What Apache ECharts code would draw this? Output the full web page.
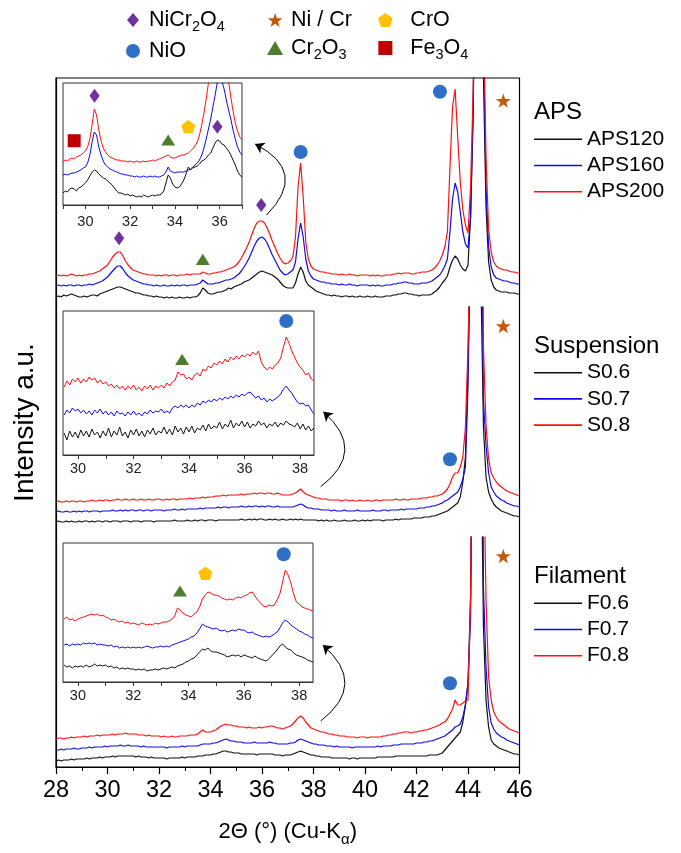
<!DOCTYPE html>
<html>
<head>
<meta charset="utf-8">
<script src="https://cdn.jsdelivr.net/npm/echarts@6/dist/echarts.min.js"></script>
<style>
html, body { margin: 0; padding: 0; background: #fff; }
#chart { width: 681px; height: 853px; }
</style>
</head>
<body>
<div id="chart"></div>
<script>
// ---- 2θ sampling of the scans (degrees) ----
const MAIN_START = 28.0, MAIN_STEP = 0.1;          // full patterns 28–46°
const APS_ZOOM_START = 29.0, ZOOM_STEP = 0.1;      // APS detail 29–37°
const SF_ZOOM_START = 29.5;                        // suspension / filament detail 29.5–38.5°

// ---- APS coatings, full range (stacked, arbitrary units) ----
const aps120 = [
  10, 11, 10, 12, 11, 12, 13, 12, 11, 10,
  10, 11, 10, 11, 12, 12, 11, 13, 14, 15,
  16, 17, 18, 19, 20, 20, 19, 18, 17, 16,
  15, 14, 14, 13, 12, 12, 11, 11, 10, 11,
  10, 10, 9, 10, 9, 10, 9, 9, 10, 9,
  9, 10, 9, 10, 10, 11, 14, 19, 17, 14,
  13, 13, 14, 15, 15, 16, 17, 19, 18, 20,
  21, 22, 23, 25, 26, 27, 29, 31, 33, 35,
  36, 35, 34, 33, 32, 30, 28, 25, 22, 20,
  19, 19, 19, 24, 33, 40, 35, 26, 22, 20,
  18, 16, 15, 14, 13, 12, 12, 11, 12, 11,
  11, 10, 11, 11, 10, 11, 10, 10, 11, 10,
  10, 11, 10, 10, 11, 10, 10, 10, 11, 11,
  11, 12, 12, 13, 13, 14, 14, 13, 13, 12,
  12, 11, 12, 12, 12, 12, 13, 15, 17, 20,
  24, 27, 31, 40, 47, 51, 48, 42, 38, 36,
  42, 90, 190, 400, 900, 900, 230, 100, 45, 27,
  20, 17, 16, 15, 15, 15, 14, 14, 14, 13,
  13
];
const aps160 = [
  21, 22, 21, 22, 21, 22, 22, 21, 22, 22,
  21, 22, 22, 23, 22, 23, 24, 25, 26, 28,
  30, 33, 36, 39, 41, 41, 38, 34, 31, 29,
  27, 26, 25, 24, 23, 23, 22, 22, 21, 22,
  21, 21, 22, 21, 21, 22, 21, 22, 21, 22,
  22, 21, 22, 22, 22, 23, 24, 27, 25, 23,
  23, 23, 24, 24, 25, 26, 27, 27, 28, 29,
  31, 33, 36, 40, 44, 49, 55, 61, 66, 69,
  70, 68, 64, 58, 52, 47, 42, 37, 34, 32,
  33, 35, 37, 45, 68, 84, 70, 48, 36, 31,
  28, 27, 26, 25, 25, 24, 24, 23, 23, 23,
  22, 23, 22, 22, 23, 22, 22, 21, 22, 22,
  22, 22, 21, 22, 21, 22, 21, 21, 22, 22,
  22, 23, 23, 24, 24, 25, 25, 24, 24, 23,
  23, 23, 24, 24, 24, 25, 26, 28, 30, 32,
  36, 41, 48, 75, 108, 124, 115, 95, 75, 63,
  59, 90, 200, 420, 900, 900, 260, 120, 60, 40,
  32, 29, 28, 27, 26, 26, 25, 24, 24, 23,
  23
];
const aps200 = [
  31, 32, 31, 32, 31, 32, 33, 32, 31, 32,
  31, 32, 32, 33, 33, 34, 35, 36, 38, 40,
  42, 46, 50, 53, 55, 55, 51, 46, 42, 39,
  37, 36, 35, 34, 33, 33, 32, 32, 32, 31,
  32, 31, 32, 32, 31, 32, 32, 31, 32, 32,
  32, 33, 32, 33, 33, 33, 33, 35, 34, 33,
  33, 34, 34, 35, 35, 36, 37, 38, 39, 40,
  42, 45, 49, 54, 59, 65, 72, 79, 84, 86,
  86, 84, 79, 73, 66, 60, 54, 49, 45, 43,
  44, 46, 50, 70, 120, 144, 110, 65, 48, 41,
  38, 37, 36, 35, 35, 34, 34, 33, 33, 33,
  32, 33, 32, 32, 33, 32, 32, 31, 32, 32,
  32, 32, 31, 32, 31, 32, 31, 31, 32, 32,
  32, 33, 33, 34, 33, 34, 34, 34, 33, 33,
  34, 34, 35, 35, 35, 36, 37, 39, 42, 46,
  52, 60, 75, 140, 200, 218, 170, 125, 97, 82,
  74, 120, 215, 450, 900, 900, 300, 150, 78, 55,
  45, 41, 39, 38, 37, 37, 36, 35, 35, 34,
  34
];

// ---- suspension coatings, full range ----
const s06 = [
  15, 16, 15, 15, 16, 15, 16, 15, 15, 16,
  15, 16, 16, 15, 16, 15, 16, 16, 15, 16,
  16, 15, 16, 16, 16, 15, 16, 16, 16, 15,
  16, 16, 16, 15, 16, 16, 16, 16, 15, 16,
  16, 16, 16, 16, 16, 16, 17, 16, 16, 16,
  16, 17, 16, 16, 17, 16, 17, 17, 16, 17,
  17, 17, 16, 17, 17, 17, 17, 17, 17, 17,
  17, 17, 18, 17, 17, 18, 17, 18, 17, 18,
  18, 17, 17, 18, 17, 18, 17, 17, 18, 17,
  17, 18, 17, 18, 17, 18, 17, 17, 17, 17,
  17, 17, 16, 17, 16, 17, 16, 16, 17, 16,
  16, 16, 17, 16, 16, 16, 17, 16, 16, 17,
  16, 17, 16, 17, 17, 17, 17, 16, 17, 17,
  17, 17, 18, 17, 18, 18, 18, 18, 18, 19,
  19, 19, 19, 20, 20, 20, 21, 21, 22, 23,
  24, 25, 26, 28, 30, 32, 34, 40, 55, 80,
  170, 320, 700, 1200, 1100, 260, 110, 60, 45, 38,
  33, 30, 28, 26, 25, 24, 23, 22, 21, 21,
  20
];
const s07 = [
  25, 26, 25, 25, 26, 25, 25, 26, 25, 26,
  25, 26, 26, 25, 26, 26, 26, 25, 26, 26,
  26, 26, 27, 26, 26, 27, 26, 27, 26, 27,
  27, 26, 27, 27, 26, 27, 27, 26, 27, 27,
  27, 27, 26, 27, 27, 27, 28, 27, 27, 28,
  27, 28, 28, 28, 28, 28, 29, 28, 29, 29,
  29, 29, 29, 30, 29, 30, 30, 29, 30, 30,
  30, 30, 31, 30, 30, 31, 30, 31, 31, 30,
  31, 30, 31, 31, 30, 30, 31, 30, 30, 30,
  30, 30, 30, 31, 32, 33, 32, 30, 29, 29,
  28, 28, 28, 27, 27, 27, 27, 26, 27, 26,
  26, 26, 27, 26, 26, 26, 26, 27, 26, 26,
  26, 26, 26, 27, 26, 26, 26, 27, 27, 26,
  27, 27, 27, 27, 28, 27, 28, 28, 28, 28,
  28, 29, 29, 29, 30, 30, 31, 31, 32, 33,
  34, 36, 37, 39, 41, 43, 45, 50, 58, 70,
  150, 300, 700, 1200, 1200, 400, 137, 92, 64, 50,
  45, 41, 39, 37, 36, 34, 33, 32, 31, 31,
  30
];
const s08 = [
  35, 36, 35, 35, 36, 35, 36, 36, 35, 36,
  36, 35, 36, 36, 37, 36, 36, 37, 36, 37,
  37, 36, 37, 37, 38, 37, 37, 38, 37, 37,
  38, 37, 37, 38, 37, 37, 38, 37, 37, 38,
  38, 37, 37, 38, 37, 38, 38, 37, 38, 38,
  38, 38, 39, 38, 39, 39, 39, 40, 39, 40,
  40, 40, 41, 41, 41, 42, 41, 42, 42, 42,
  42, 42, 43, 42, 43, 43, 43, 44, 43, 44,
  44, 43, 44, 44, 43, 43, 44, 43, 42, 42,
  42, 42, 43, 44, 46, 48, 45, 43, 42, 41,
  40, 39, 39, 38, 38, 38, 37, 37, 37, 37,
  37, 36, 37, 37, 36, 37, 36, 36, 37, 36,
  36, 37, 36, 36, 37, 37, 36, 37, 37, 37,
  37, 37, 38, 37, 37, 38, 37, 37, 38, 38,
  38, 38, 39, 39, 39, 40, 40, 41, 41, 42,
  43, 45, 48, 53, 60, 64, 64, 70, 80, 110,
  190, 320, 700, 1200, 1200, 700, 190, 112, 78, 64,
  59, 55, 52, 50, 48, 46, 45, 44, 43, 42,
  41
];

// ---- filament coatings, full range ----
const f06 = [
  6, 7, 6, 7, 7, 7, 8, 7, 8, 8,
  8, 8, 9, 8, 9, 9, 9, 10, 9, 10,
  10, 10, 11, 10, 11, 11, 11, 11, 11, 11,
  11, 10, 11, 10, 10, 10, 9, 10, 9, 9,
  9, 9, 9, 8, 9, 9, 9, 9, 9, 10,
  9, 10, 10, 10, 10, 11, 11, 11, 12, 12,
  12, 13, 13, 14, 15, 16, 16, 15, 15, 14,
  14, 14, 13, 13, 13, 13, 13, 13, 12, 13,
  13, 13, 13, 13, 13, 12, 12, 12, 11, 12,
  12, 12, 13, 14, 15, 16, 15, 14, 13, 12,
  12, 11, 11, 10, 10, 10, 10, 9, 9, 9,
  9, 9, 9, 9, 8, 9, 9, 8, 9, 9,
  9, 9, 9, 9, 9, 10, 10, 10, 10, 10,
  10, 10, 11, 11, 11, 11, 11, 11, 11, 11,
  11, 11, 11, 11, 11, 12, 12, 12, 12, 13,
  14, 17, 20, 23, 26, 29, 32, 35, 45, 62,
  84, 170, 500, 1000, 1100, 350, 140, 67, 40, 27,
  23, 21, 19, 18, 17, 16, 15, 14, 13, 13,
  12
];
const f07 = [
  17, 17, 18, 17, 18, 18, 18, 19, 18, 18,
  19, 19, 19, 20, 19, 20, 20, 20, 20, 21,
  20, 21, 21, 21, 21, 22, 21, 21, 22, 21,
  21, 21, 21, 20, 21, 20, 20, 20, 20, 20,
  20, 20, 20, 19, 20, 20, 20, 20, 20, 21,
  20, 21, 21, 21, 21, 21, 22, 23, 23, 23,
  23, 24, 24, 25, 26, 27, 28, 27, 26, 26,
  25, 25, 25, 24, 24, 24, 24, 25, 24, 24,
  24, 24, 24, 25, 24, 24, 23, 23, 23, 23,
  23, 24, 24, 25, 27, 28, 27, 26, 25, 24,
  23, 23, 22, 22, 22, 21, 21, 21, 20, 21,
  20, 20, 20, 20, 20, 19, 20, 20, 20, 20,
  20, 20, 20, 20, 20, 21, 20, 21, 21, 21,
  21, 22, 22, 22, 23, 23, 23, 23, 23, 23,
  24, 24, 24, 25, 25, 26, 26, 27, 28, 29,
  30, 31, 33, 35, 37, 40, 41, 43, 50, 62,
  84, 150, 400, 1000, 1100, 700, 180, 100, 60, 44,
  38, 34, 32, 30, 29, 27, 26, 25, 24, 23,
  22
];
const f08 = [
  28, 29, 29, 28, 29, 29, 30, 29, 30, 30,
  30, 31, 30, 31, 31, 31, 32, 31, 32, 32,
  32, 32, 33, 32, 33, 33, 33, 34, 33, 33,
  33, 33, 32, 32, 32, 31, 32, 31, 31, 31,
  31, 30, 31, 30, 30, 31, 30, 30, 31, 31,
  31, 31, 32, 32, 32, 33, 35, 37, 35, 35,
  35, 36, 37, 39, 41, 42, 43, 42, 42, 41,
  41, 40, 40, 40, 39, 40, 39, 39, 39, 40,
  39, 40, 40, 41, 41, 40, 39, 39, 38, 39,
  40, 41, 43, 46, 49, 51, 49, 45, 42, 39,
  38, 37, 36, 35, 35, 34, 33, 33, 32, 32,
  31, 31, 31, 30, 30, 30, 30, 29, 30, 30,
  30, 29, 30, 30, 30, 30, 30, 31, 31, 32,
  32, 33, 33, 34, 34, 35, 35, 35, 34, 35,
  35, 36, 36, 37, 37, 38, 39, 40, 41, 42,
  44, 45, 48, 53, 58, 67, 62, 62, 64, 66,
  67, 170, 450, 1000, 1100, 900, 320, 167, 90, 67,
  55, 50, 46, 44, 42, 40, 38, 37, 36, 35,
  34
];

// ---- APS detail, 29–37° ----
const apsZoom120 = [
  12, 14, 13, 16, 17, 16, 14, 17, 18, 20,
  22, 25, 29, 33, 35, 34, 31, 29, 27, 26,
  24, 22, 20, 17, 14, 12, 12, 11, 10, 11,
  9, 10, 9, 8, 9, 8, 10, 9, 8, 9,
  10, 9, 10, 10, 11, 14, 22, 30, 27, 21,
  18, 17, 18, 21, 25, 31, 38, 35, 37, 38,
  39, 41, 44, 45, 47, 50, 52, 57, 62, 65,
  64, 61, 60, 57, 54, 50, 45, 40, 34, 30,
  28
];
const apsZoom160 = [
  30, 31, 30, 31, 32, 32, 33, 34, 35, 37,
  38, 42, 50, 63, 73, 70, 58, 50, 44, 40,
  38, 36, 35, 34, 33, 32, 31, 31, 30, 30,
  29, 29, 28, 29, 28, 28, 29, 28, 28, 29,
  28, 29, 28, 28, 29, 30, 33, 38, 34, 33,
  32, 33, 33, 33, 33, 34, 35, 36, 38, 40,
  42, 45, 50, 57, 66, 76, 86, 98, 110, 123,
  128, 124, 116, 105, 95, 86, 75, 66, 58, 53,
  50
];
const apsZoom200 = [
  43, 45, 44, 46, 47, 46, 48, 49, 50, 52,
  54, 58, 66, 80, 96, 90, 75, 64, 57, 53,
  50, 48, 47, 46, 45, 45, 44, 44, 44, 43,
  44, 43, 43, 44, 43, 43, 44, 43, 44, 44,
  45, 44, 45, 46, 47, 48, 49, 50, 48, 47,
  47, 48, 49, 50, 50, 51, 52, 54, 56, 59,
  63, 70, 80, 92, 106, 122, 138, 150, 158, 160,
  158, 152, 145, 135, 124, 108, 94, 82, 74, 68,
  65
];

// ---- suspension detail, 29.5–38.5° ----
const sZoom06 = [
  22, 15, 24, 18, 23,
  17, 25, 19, 24, 18, 26, 20, 23, 17, 24,
  19, 27, 18, 24, 20, 28, 19, 23, 17, 25,
  20, 26, 19, 24, 18, 25, 21, 27, 20, 24,
  22, 28, 21, 26, 20, 29, 23, 27, 21, 28,
  23, 29, 22, 27, 25, 30, 24, 31, 26, 29,
  27, 33, 26, 31, 28, 35, 27, 32, 29, 34,
  28, 33, 27, 31, 29, 34, 30, 32, 27, 31,
  29, 33, 28, 32, 30, 34, 31, 30, 28, 32,
  26, 31, 25, 29, 24, 27
];
const sZoom07 = [
  40, 45, 42, 47, 44,
  46, 42, 45, 41, 44, 40, 45, 42, 46, 41,
  44, 40, 43, 39, 44, 41, 42, 39, 43, 40,
  44, 40, 42, 39, 43, 41, 45, 42, 44, 43,
  46, 42, 44, 42, 47, 49, 47, 50, 48, 50,
  47, 50, 48, 52, 50, 54, 52, 55, 53, 56,
  54, 57, 55, 58, 56, 59, 57, 60, 58, 61,
  59, 62, 63, 60, 57, 59, 55, 57, 53, 56,
  54, 56, 58, 61, 66, 69, 65, 62, 57, 53,
  51, 52, 49, 50, 45, 41
];
const sZoom08 = [
  68, 74, 70, 76, 73,
  77, 72, 76, 73, 78, 75, 77, 72, 75, 71,
  73, 69, 71, 67, 70, 66, 69, 65, 69, 66,
  70, 65, 68, 64, 69, 66, 70, 65, 69, 67,
  70, 67, 72, 69, 73, 75, 83, 80, 81, 76,
  78, 75, 80, 82, 79, 86, 84, 89, 87, 92,
  90, 94, 91, 96, 93, 98, 95, 99, 96, 100,
  98, 101, 99, 103, 100, 104, 93, 88, 85, 88,
  86, 90, 92, 97, 108, 118, 112, 104, 98, 92,
  88, 85, 80, 82, 76, 74
];

// ---- filament detail, 29.5–38.5° ----
const fZoom06 = [
  17, 15, 16, 14, 16,
  15, 16, 15, 17, 15, 16, 18, 16, 17, 16,
  17, 15, 16, 14, 15, 13, 14, 13, 14, 13,
  13, 12, 13, 12, 13, 11, 12, 12, 13, 12,
  13, 14, 13, 14, 15, 14, 16, 17, 18, 20,
  21, 23, 24, 27, 30, 33, 32, 34, 31, 30,
  30, 29, 28, 27, 25, 26, 27, 26, 27, 25,
  27, 26, 25, 24, 26, 24, 23, 22, 21, 23,
  26, 29, 32, 36, 38, 35, 33, 32, 29, 27,
  26, 25, 24, 22, 21, 20
];
const fZoom07 = [
  37, 38, 36, 38, 37,
  38, 37, 39, 38, 39, 38, 39, 37, 38, 37,
  37, 36, 37, 35, 36, 34, 35, 34, 35, 34,
  35, 34, 35, 34, 35, 36, 35, 34, 35, 35,
  36, 35, 36, 35, 37, 38, 39, 40, 41, 42,
  43, 45, 46, 49, 53, 58, 56, 55, 54, 53,
  54, 52, 51, 52, 50, 51, 52, 51, 53, 52,
  52, 50, 49, 50, 48, 47, 46, 45, 46, 45,
  46, 48, 50, 54, 59, 62, 60, 57, 55, 53,
  51, 50, 48, 47, 45, 44
];
const fZoom08 = [
  63, 65, 62, 63, 61,
  63, 64, 65, 66, 67, 68, 67, 68, 66, 67,
  65, 64, 62, 63, 61, 60, 61, 59, 60, 58,
  59, 58, 57, 59, 58, 57, 58, 57, 59, 58,
  59, 60, 60, 61, 63, 66, 74, 72, 69, 67,
  66, 65, 68, 70, 75, 83, 87, 90, 89, 87,
  87, 86, 84, 83, 82, 83, 82, 84, 85, 84,
  86, 87, 89, 90, 86, 82, 79, 76, 75, 77,
  76, 77, 82, 88, 100, 112, 107, 99, 88, 80,
  78, 75, 74, 73, 72, 71
];

// ---- phase reflections: [2θ, height] in each panel ----
const nicr2o4Aps = [[30.45, 68.7], [35.97, 102]];
const nicr2o4ApsZoom = [[30.41, 109.3], [35.9, 78.3]];
const nioAps = [[37.5, 155], [42.91, 215.3]];
const nioSusp = [[43.3, 77.7]];
const nioFil = [[43.3, 83.7]];
const nioSuspZoom = [[37.5, 134]];
const nioFilZoom = [[37.44, 127.7]];
const niCrAps = [[45.37, 206.3]];
const niCrSusp = [[45.37, 211]];
const niCrFil = [[45.37, 211]];
const cr2o3Aps = [[33.7, 47.7]];
const cr2o3ApsZoom = [[33.7, 65]];
const cr2o3SuspZoom = [[33.75, 95.7]];
const cr2o3FilZoom = [[33.69, 91]];
const croApsZoom = [[34.6, 78.3]];
const croFilZoom = [[34.61, 108.7]];
const fe3o4ApsZoom = [[29.5, 64.3]];

// ---- pointers from the full pattern to the detail view ----
const apsPointer = [[36.18, 92], [35.73, 163]];
const suspPointer = [[38.28, 50.3], [38.38, 125.3]];
const filPointer = [[38.28, 46], [38.36, 122]];

// ---- tick positions ----
const apsZoomTicks = [29, 30, 31, 32, 33, 34, 35, 36, 37];
const apsZoomLabels = [30, 32, 34, 36];
const sfZoomTicks = [30, 31, 32, 33, 34, 35, 36, 37, 38];
const sfZoomLabels = [30, 32, 34, 36, 38];

const FONT = '"Liberation Sans", Arial, Helvetica, sans-serif';
const BLACK = '#111111', BLUE = '#0c0ce8', RED = '#ff1010';

const SYM = {
  circle: 'path://M10,0A10,10,0,1,1,-10,0A10,10,0,1,1,10,0Z',
  diamond: 'path://M0,-10L8.5,0L0,10L-8.5,0Z',
  triangle: 'path://M0,-10L10,7.3L-10,7.3Z',
  square: 'path://M-10,-10L10,-10L10,10L-10,10Z',
  pentagon: 'path://M0,-10L9.51,-3.09L5.88,8.09L-5.88,8.09L-9.51,-3.09Z',
  star: 'path://M0,-10L2.35,-3.24L9.51,-3.09L3.8,1.24L5.88,8.09L0,4L-5.88,8.09L-3.8,1.24L-9.51,-3.09L-2.35,-3.24Z'
};
const PHASE = {
  nicr2o4: { name: 'NiCr2O4', label: '{n|NiCr}{s|2}{n|O}{s|4}', symbol: SYM.diamond, color: '#7030a0', size: [12, 14] },
  nio: { name: 'NiO', label: '{n|NiO}', symbol: SYM.circle, color: '#2f6fc6', size: [14, 14] },
  nicr: { name: 'Ni / Cr', label: '{n|Ni / Cr}', symbol: SYM.star, color: '#c65911', size: [15, 15] },
  cr2o3: { name: 'Cr2O3', label: '{n|Cr}{s|2}{n|O}{s|3}', symbol: SYM.triangle, color: '#4f7d2d', size: [14, 13] },
  cro: { name: 'CrO', label: '{n|CrO}', symbol: SYM.pentagon, color: '#ffc000', size: [14, 14] },
  fe3o4: { name: 'Fe3O4', label: '{n|Fe}{s|3}{n|O}{s|4}', symbol: SYM.square, color: '#c00000', size: [13, 13] }
};
const labelOf = {};
Object.keys(PHASE).forEach(k => { labelOf[PHASE[k].name] = PHASE[k].label; });

const scan = (start, step, values) =>
  values.map((v, i) => [Math.round((start + i * step) * 100) / 100, v]);

// axis / grid indices: 0 frame, 1 APS, 2 suspension, 3 filament, 4-6 detail views
const trace = (name, start, step, values, idx, color, width) => ({
  type: 'line', name, data: scan(start, step, values),
  xAxisIndex: idx, yAxisIndex: idx, symbol: 'none', showSymbol: false,
  lineStyle: { color, width }, itemStyle: { color },
  clip: true, silent: true, animation: false, z: 3
});
const marks = (phase, data, idx) => ({
  type: 'scatter', name: phase.name, data, xAxisIndex: idx, yAxisIndex: idx,
  symbol: phase.symbol, symbolSize: phase.size, symbolKeepAspect: true,
  itemStyle: { color: phase.color, opacity: 1 }, silent: true, z: 6
});
const pointer = (coords, idx, curveness) => ({
  type: 'lines', coordinateSystem: 'cartesian2d', xAxisIndex: idx, yAxisIndex: idx,
  symbol: ['none', 'arrow'], symbolSize: 9,
  lineStyle: { color: '#000', width: 1, opacity: 1, curveness },
  data: [{ coords }], silent: true, z: 4
});

const hiddenX = (gridIndex, min, max) => ({ gridIndex, type: 'value', min, max, show: false });
const hiddenY = (gridIndex, max) => ({ gridIndex, type: 'value', min: 0, max, show: false });
const zoomX = (gridIndex, min, max, ticks, labels, margin) => ({
  gridIndex, type: 'value', min, max,
  axisLine: { show: true, lineStyle: { color: '#333', width: 1 } },
  axisTick: { show: true, customValues: ticks, length: 4, lineStyle: { color: '#333', width: 1 } },
  axisLabel: { show: true, customValues: labels, fontSize: 14.5, color: '#222', margin, fontFamily: FONT },
  splitLine: { show: false }
});

const richSub = {
  n: { fontSize: 21.5, lineHeight: 28, fontFamily: FONT, color: '#000' },
  s: { fontSize: 14.5, lineHeight: 14, verticalAlign: 'bottom', fontFamily: FONT, color: '#000' }
};
const phaseLegend = (left, itemWidth, names) => ({
  orient: 'vertical', left, top: 9, itemWidth, itemHeight: 14, itemGap: 6,
  padding: 0, selectedMode: false, data: names,
  formatter: n => labelOf[n], textStyle: { rich: richSub }
});
const sampleLegend = (top, names) => ({
  orient: 'vertical', left: 534, top, icon: 'rect', itemWidth: 48, itemHeight: 1.6,
  itemGap: 4.2, padding: 0, selectedMode: false, data: names,
  textStyle: { fontSize: 21, lineHeight: 22, color: '#000', fontFamily: FONT }
});
const groupTitle = (text, top) => ({
  text, left: 534, top, padding: 0,
  textStyle: { fontSize: 24, fontWeight: 'normal', color: '#000', fontFamily: FONT }
});

const option = {
  animation: false,
  backgroundColor: '#fff',
  title: [groupTitle('APS', 100), groupTitle('Suspension', 334), groupTitle('Filament', 564)],
  legend: [
    phaseLegend(126, 22, [PHASE.nicr2o4.name, PHASE.nio.name]),
    phaseLegend(267, 22, [PHASE.nicr.name, PHASE.cr2o3.name]),
    phaseLegend(378, 40, [PHASE.cro.name, PHASE.fe3o4.name]),
    sampleLegend(128.3, ['APS120', 'APS160', 'APS200']),
    sampleLegend(361.7, ['S0.6', 'S0.7', 'S0.8']),
    sampleLegend(592.3, ['F0.6', 'F0.7', 'F0.8'])
  ],
  grid: [
    { left: 56, right: 161.5, top: 78, bottom: 86, show: true, borderColor: '#000', borderWidth: 1.2, backgroundColor: 'transparent' },
    { left: 56, right: 161.5, top: 78, height: 229 },
    { left: 56, right: 161.5, top: 307, height: 230 },
    { left: 56, right: 161.5, top: 537, height: 230 },
    { left: 63, top: 83, width: 179, height: 122, show: true, borderColor: '#333', borderWidth: 1, backgroundColor: '#fff' },
    { left: 63, top: 311, width: 251, height: 144, show: true, borderColor: '#333', borderWidth: 1, backgroundColor: '#fff' },
    { left: 63, top: 543, width: 250, height: 139, show: true, borderColor: '#333', borderWidth: 1, backgroundColor: '#fff' }
  ],
  xAxis: [
    {
      gridIndex: 0, type: 'value', min: 28, max: 46, interval: 2,
      axisLine: { show: true, lineStyle: { color: '#000', width: 1.2 } },
      axisTick: { show: true, length: 7, lineStyle: { color: '#000', width: 1.2 } },
      minorTick: { show: true, splitNumber: 2, length: 4, lineStyle: { color: '#000', width: 1 } },
      axisLabel: { fontSize: 23.5, color: '#000', margin: 12, fontFamily: FONT },
      splitLine: { show: false },
      name: '{t|2Θ (°) (Cu-K}{s|α}{t|)}', nameLocation: 'middle', nameGap: 50,
      nameTextStyle: {
        rich: {
          t: { fontSize: 22, lineHeight: 30, fontFamily: FONT, color: '#000' },
          s: { fontSize: 15, lineHeight: 15, verticalAlign: 'bottom', fontFamily: FONT, color: '#000' }
        }
      }
    },
    hiddenX(1, 28, 46), hiddenX(2, 28, 46), hiddenX(3, 28, 46),
    zoomX(4, 29, 37, apsZoomTicks, apsZoomLabels, 9),
    zoomX(5, 29.46, 38.5, sfZoomTicks, sfZoomLabels, 6),
    zoomX(6, 29.46, 38.5, sfZoomTicks, sfZoomLabels, 6)
  ],
  yAxis: [
    {
      gridIndex: 0, type: 'value', min: 0, max: 1,
      axisLine: { show: true, lineStyle: { color: '#000', width: 1.2 } },
      axisTick: { show: false }, axisLabel: { show: false }, splitLine: { show: false },
      name: 'Intensity a.u.', nameLocation: 'middle', nameGap: 17, nameRotate: 90,
      nameTextStyle: { fontSize: 28, color: '#000', fontFamily: FONT }
    },
    hiddenY(1, 229), hiddenY(2, 230), hiddenY(3, 230),
    hiddenY(4, 122), hiddenY(5, 144), hiddenY(6, 139)
  ],
  series: [
    trace('APS120', MAIN_START, MAIN_STEP, aps120, 1, BLACK, 1.2),
    trace('APS160', MAIN_START, MAIN_STEP, aps160, 1, BLUE, 1.2),
    trace('APS200', MAIN_START, MAIN_STEP, aps200, 1, RED, 1.2),
    trace('S0.6', MAIN_START, MAIN_STEP, s06, 2, BLACK, 1.2),
    trace('S0.7', MAIN_START, MAIN_STEP, s07, 2, BLUE, 1.2),
    trace('S0.8', MAIN_START, MAIN_STEP, s08, 2, RED, 1.2),
    trace('F0.6', MAIN_START, MAIN_STEP, f06, 3, BLACK, 1.2),
    trace('F0.7', MAIN_START, MAIN_STEP, f07, 3, BLUE, 1.2),
    trace('F0.8', MAIN_START, MAIN_STEP, f08, 3, RED, 1.2),
    trace('APS120', APS_ZOOM_START, ZOOM_STEP, apsZoom120, 4, BLACK, 1),
    trace('APS160', APS_ZOOM_START, ZOOM_STEP, apsZoom160, 4, BLUE, 1),
    trace('APS200', APS_ZOOM_START, ZOOM_STEP, apsZoom200, 4, RED, 1),
    trace('S0.6', SF_ZOOM_START, ZOOM_STEP, sZoom06, 5, BLACK, 1),
    trace('S0.7', SF_ZOOM_START, ZOOM_STEP, sZoom07, 5, BLUE, 1),
    trace('S0.8', SF_ZOOM_START, ZOOM_STEP, sZoom08, 5, RED, 1),
    trace('F0.6', SF_ZOOM_START, ZOOM_STEP, fZoom06, 6, BLACK, 1),
    trace('F0.7', SF_ZOOM_START, ZOOM_STEP, fZoom07, 6, BLUE, 1),
    trace('F0.8', SF_ZOOM_START, ZOOM_STEP, fZoom08, 6, RED, 1),

    marks(PHASE.nicr2o4, nicr2o4Aps, 1),
    marks(PHASE.nicr2o4, nicr2o4ApsZoom, 4),
    marks(PHASE.nio, nioAps, 1),
    marks(PHASE.nio, nioSusp, 2),
    marks(PHASE.nio, nioFil, 3),
    marks(PHASE.nio, nioSuspZoom, 5),
    marks(PHASE.nio, nioFilZoom, 6),
    marks(PHASE.nicr, niCrAps, 1),
    marks(PHASE.nicr, niCrSusp, 2),
    marks(PHASE.nicr, niCrFil, 3),
    marks(PHASE.cr2o3, cr2o3Aps, 1),
    marks(PHASE.cr2o3, cr2o3ApsZoom, 4),
    marks(PHASE.cr2o3, cr2o3SuspZoom, 5),
    marks(PHASE.cr2o3, cr2o3FilZoom, 6),
    marks(PHASE.cro, croApsZoom, 4),
    marks(PHASE.cro, croFilZoom, 6),
    marks(PHASE.fe3o4, fe3o4ApsZoom, 4),

    pointer(apsPointer, 1, -0.68),
    pointer(suspPointer, 2, -0.61),
    pointer(filPointer, 3, -0.61)
  ]
};

const chart = echarts.init(document.getElementById('chart'), null, { renderer: 'canvas' });
chart.setOption(option);
</script>
</body>
</html>
